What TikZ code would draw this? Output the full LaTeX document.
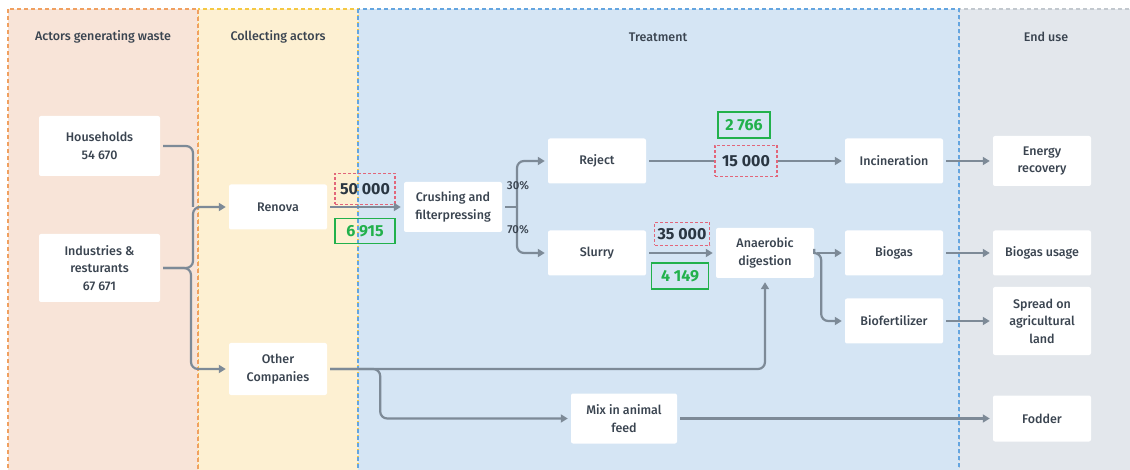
\documentclass[tikz,border=0pt]{standalone}
\usepackage{fontspec}
\setmainfont{Fira Sans}[UprightFont={* Medium}, BoldFont={* Bold}]
\usetikzlibrary{arrows.meta,calc}
\definecolor{laneA}{HTML}{F8E4D8}
\definecolor{laneAline}{HTML}{F0A060}
\definecolor{laneB}{HTML}{FDF0D2}
\definecolor{laneBline}{HTML}{F5C843}
\definecolor{laneC}{HTML}{D5E5F4}
\definecolor{laneCline}{HTML}{64A5E0}
\definecolor{laneD}{HTML}{E3E7EC}
\definecolor{laneDline}{HTML}{C2C8CE}
\definecolor{txt}{HTML}{3A4450}
\definecolor{numtxt}{HTML}{2A3642}
\definecolor{flow}{HTML}{7D8A97}
\definecolor{okgreen}{HTML}{22B14C}
\definecolor{dashred}{HTML}{E2667A}
\tikzset{
  x=1pt, y=-1pt,
  lane/.style={draw, line width=1.2pt, dash pattern=on 4pt off 3pt},
  head/.style={text=txt, font=\fontsize{12.5}{14}\selectfont},
  box/.style={fill=white, rounded corners=2pt, text=txt, align=center,
    font=\fontsize{12.5}{17.5}\selectfont, inner sep=0pt},
  conn/.style={draw=flow, line width=2.2pt, rounded corners=7pt,
    -{Triangle[length=7pt,width=8pt]}, shorten <=3pt, shorten >=3pt},
  plain/.style={draw=flow, line width=2.2pt, rounded corners=7pt, shorten <=3pt},
  qty/.style={draw=dashred, line width=1.1pt, dash pattern=on 3pt off 2pt,
    text=numtxt, font=\fontsize{16}{18}\selectfont\bfseries, inner sep=0pt},
  share/.style={draw=okgreen, line width=1.2pt, text=okgreen,
    font=\fontsize{16}{18}\selectfont\bfseries, inner sep=0pt},
  pct/.style={text=txt, font=\fontsize{11.5}{12}\selectfont},
}
\begin{document}
\begin{tikzpicture}
\useasboundingbox (0,0) rectangle (1130,470);
\clip (0,0) rectangle (1130,470);
\fill[white] (0,0) rectangle (1130,470);

% swim lanes
\path[lane, fill=laneD, draw=laneDline] (959,9) rectangle (1140,480);
\path[lane, fill=laneC, draw=laneCline] (358,9) rectangle (959,480);
\path[lane, fill=laneB, draw=laneBline] (198,9) rectangle (358,480);
\path[lane, fill=laneA, draw=laneAline] (8,9) rectangle (198,480);
\draw[lane, laneCline] (358,9) -- (358,480);

\node[head] (hA) at (103,37) {Actors generating waste};
\node[head] (hB) at (278,37) {Collecting actors};
\node[head] (hC) at (658,37) {Treatment};
\node[head] (hD) at (1046,37) {End use};

% actors
\node[box, minimum width=121pt, minimum height=60pt] (hh) at (99.5,146) {Households\\54 670};
\node[box, minimum width=121pt, minimum height=68pt] (ind) at (99.5,268) {Industries \&\\resturants\\67 671};
\node[box, minimum width=98pt, minimum height=45pt] (ren) at (278,207) {Renova};
\node[box, minimum width=98pt, minimum height=52pt] (oc) at (278,369) {Other\\Companies};

% treatment
\node[box, minimum width=98pt, minimum height=50pt] (cr) at (453,207) {Crushing and\\filterpressing};
\node[box, minimum width=98pt, minimum height=45pt] (rej) at (597,161) {Reject};
\node[box, minimum width=98pt, minimum height=45pt] (sl) at (597,253) {Slurry};
\node[box, minimum width=98pt, minimum height=50pt] (ad) at (765,253) {Anaerobic\\digestion};
\node[box, minimum width=98pt, minimum height=45pt] (inc) at (894,161) {Incineration};
\node[box, minimum width=98pt, minimum height=45pt] (bg) at (894,253) {Biogas};
\node[box, minimum width=98pt, minimum height=45pt] (bf) at (894,321) {Biofertilizer};
\node[box, minimum width=106pt, minimum height=50pt] (mix) at (624,418.5) {Mix in animal\\feed};

% end use
\node[box, minimum width=98pt, minimum height=50pt] (er) at (1042,161) {Energy\\recovery};
\node[box, minimum width=98pt, minimum height=45pt] (bu) at (1042,253) {Biogas usage};
\node[box, minimum width=98pt, minimum height=68pt] (sp) at (1042,321) {Spread on\\agricultural\\land};
\node[box, minimum width=98pt, minimum height=46pt] (fo) at (1042,418.5) {Fodder};

% quantities
\node[qty, minimum width=60pt, minimum height=31pt] (q50) at (365,189) {50 000};
\node[share, minimum width=60pt, minimum height=25pt] (s69) at (365,231) {6 915};
\node[qty, minimum width=62pt, minimum height=31pt] (q15) at (746,161) {15 000};
\node[share, minimum width=52pt, minimum height=26pt] (s27) at (744,125) {2 766};
\node[qty, minimum width=55pt, minimum height=23pt] (q35) at (682,234) {35 000};
\node[share, minimum width=57pt, minimum height=26pt] (s41) at (680,276) {4 149};

% junction points
\coordinate (jr) at (193,207);
\coordinate (jo) at (191,369);
\coordinate (br) at (517,207);

% flows
\draw[plain] (hh.east) -| (jr);
\draw[conn] (ind.east) -| (jr) -- (ren.west);
\draw[conn] (ind.east) -| (jo) -- (oc.west);
\draw[conn] (ren.east) -- (cr.west);
\draw[plain] (cr.east) -- (br);
\draw[conn, shorten <=0pt] (br) |- (rej.west);
\draw[conn, shorten <=0pt] (br) |- (sl.west);
\node[pct] (p30) at (518,186) {30\%};
\node[pct] (p70) at (518,230) {70\%};
\draw[plain, shorten >=0pt] (rej.east) -- (q15.west);
\draw[conn, shorten <=0pt] (q15.east) -- (inc.west);
\draw[conn] (sl.east) -- (ad.west);
\draw[conn] (ad.east) -- (bg.west);
\draw[conn, shorten <=4pt] (ad.east) -- ++(7,0) |- (bf.west);
\draw[conn, shorten >=4pt] (oc.east) -| (ad.south);
\draw[conn] (oc.east) -- ++(53,0) |- (mix.west);
\draw[conn] (inc.east) -- (er.west);
\draw[conn] (bg.east) -- (bu.west);
\draw[conn] (bf.east) -- (sp.west);
\draw[conn] (mix.east) -- (fo.west);
\end{tikzpicture}
\end{document}
